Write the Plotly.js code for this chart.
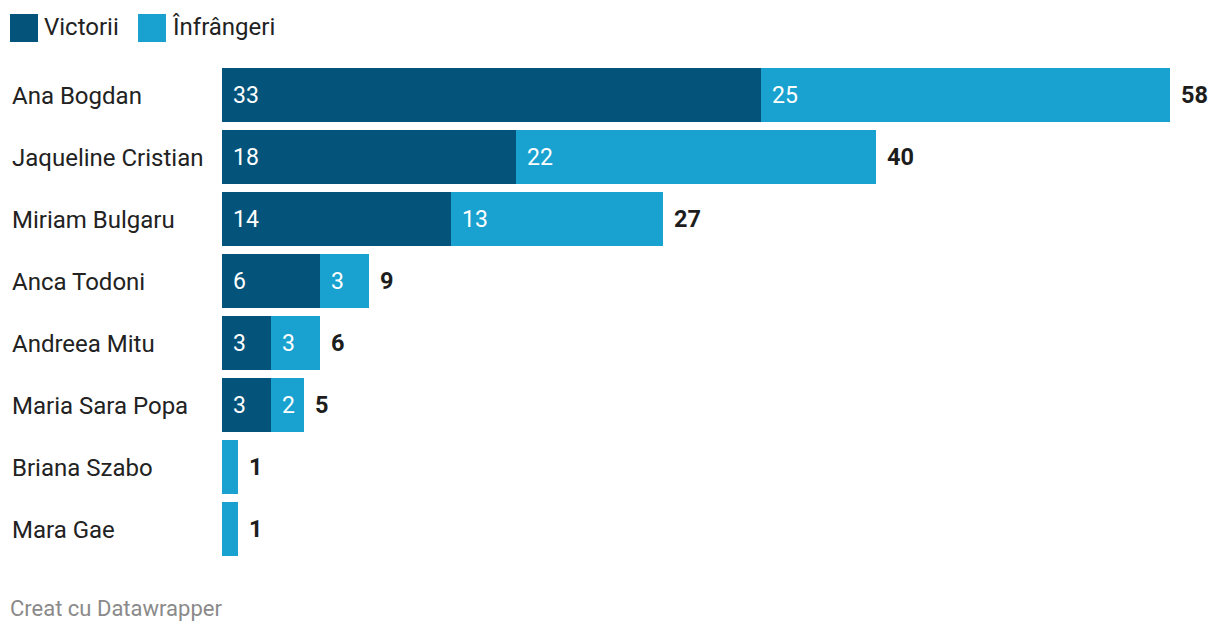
<!DOCTYPE html>
<html>
<head>
<meta charset="utf-8">
<script src="https://cdn.plot.ly/plotly-3.0.1.min.js"></script>
<style>
html,body{margin:0;padding:0;background:#fff;}
#chart{width:1220px;height:634px;}
</style>
</head>
<body>
<div id="chart"></div>
<script>
const players = ["Ana Bogdan","Jaqueline Cristian","Miriam Bulgaru","Anca Todoni","Andreea Mitu","Maria Sara Popa","Briana Szabo","Mara Gae"];
const victorii = [33,18,14,6,3,3,0,0];
const infrangeri = [25,22,13,3,3,2,1,1];
const seriesNames = ["Victorii","Înfrângeri"];
const colors = ["#03537b","#19a2cf"];

const W = 1220, H = 634;
const mL = 222, mR = 50, mT = 64, mB = 74;
const pw = W - mL - mR, ph = H - mT - mB;
const px = x => (x - mL) / pw;
const py = y => (H - mB - y) / ph;

const totals = players.map((p,i) => victorii[i] + infrangeri[i]);
const font = "Roboto, 'Noto Sans', sans-serif";

const traces = [
  {type:"bar", orientation:"h", y:players, x:victorii, name:seriesNames[0], marker:{color:colors[0]}, hoverinfo:"x+name"},
  {type:"bar", orientation:"h", y:players, x:infrangeri, name:seriesNames[1], marker:{color:colors[1]}, hoverinfo:"x+name"}
];

const annotations = [];
players.forEach((p,i) => {
  annotations.push({xref:"paper", yref:"y", x:px(10), y:p, text:p, showarrow:false, xanchor:"left", yanchor:"middle",
    yshift:-1, font:{family:font, size:24, color:"#222"}});
  if (victorii[i] >= 2) annotations.push({xref:"x", yref:"y", x:0, y:p, text:String(victorii[i]), showarrow:false,
    xanchor:"left", yanchor:"middle", xshift:9, font:{family:font, size:23, color:"#fff"}});
  if (infrangeri[i] >= 2) annotations.push({xref:"x", yref:"y", x:victorii[i], y:p, text:String(infrangeri[i]), showarrow:false,
    xanchor:"left", yanchor:"middle", xshift:9, font:{family:font, size:23, color:"#fff"}});
  annotations.push({xref:"x", yref:"y", x:totals[i], y:p, text:"<b>"+totals[i]+"</b>", showarrow:false,
    xanchor:"left", yanchor:"middle", xshift:9, font:{family:font, size:23.5, color:"#1d1d1d"}});
});

const shapes = [];
const legendItems = [{x:10, tx:42}, {x:138, tx:170}];
legendItems.forEach((it,k) => {
  shapes.push({type:"rect", xref:"paper", yref:"paper", x0:px(it.x), x1:px(it.x+28), y0:py(42), y1:py(14),
    fillcolor:colors[k], line:{width:0}});
  annotations.push({xref:"paper", yref:"paper", x:px(it.tx), y:py(27), text:seriesNames[k], showarrow:false,
    xanchor:"left", yanchor:"middle", font:{family:font, size:24, color:"#222"}});
});

annotations.push({xref:"paper", yref:"paper", x:px(8), y:py(608), text:"Creat cu Datawrapper", showarrow:false,
  xanchor:"left", yanchor:"middle", font:{family:font, size:22, color:"#8a8a8a"}});

const layout = {
  width:W, height:H,
  margin:{l:mL, r:mR, t:mT, b:mB, pad:0},
  barmode:"stack",
  bargap:0.129,
  showlegend:false,
  paper_bgcolor:"#fff", plot_bgcolor:"#fff",
  xaxis:{range:[0,58], showgrid:false, zeroline:false, showticklabels:false, ticks:"", fixedrange:true},
  yaxis:{type:"category", autorange:"reversed", showgrid:false, zeroline:false, showticklabels:false, ticks:"", fixedrange:true},
  annotations:annotations,
  shapes:shapes,
  font:{family:font}
};

Plotly.newPlot("chart", traces, layout, {displayModeBar:false, staticPlot:true});
</script>
</body>
</html>
